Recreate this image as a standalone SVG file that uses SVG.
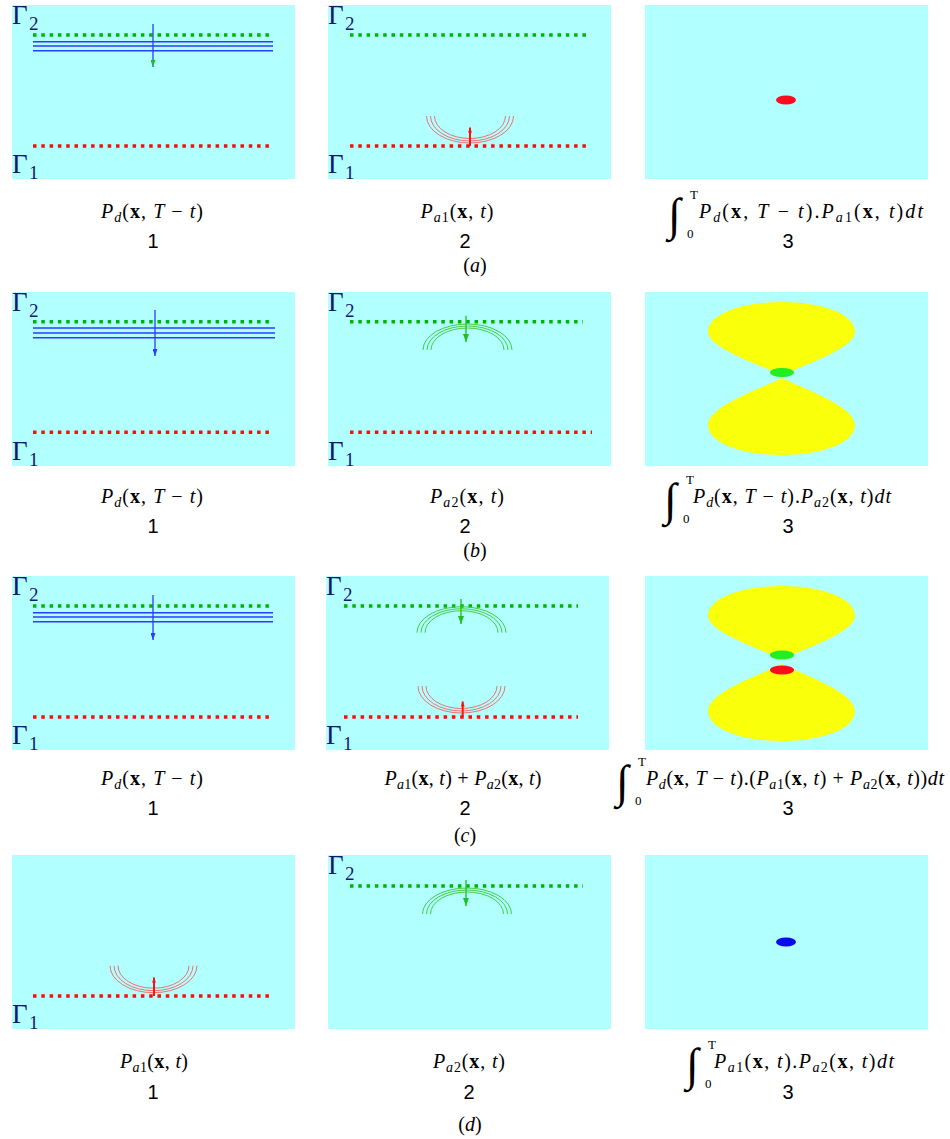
<svg xmlns="http://www.w3.org/2000/svg" width="950" height="1139" viewBox="0 0 950 1139">
<style>
.bg{fill:#b2ffff}
.gd{stroke:#00b400;stroke-width:3.5;stroke-dasharray:3.5 4.8;fill:none}
.rd{stroke:#ff0a0a;stroke-width:3.5;stroke-dasharray:3.5 4.8;fill:none}
.bl{stroke:#2a3cff;stroke-width:1.5;fill:none}
.ar{fill:none;stroke:#f07070;stroke-width:1}
.ag{fill:none;stroke:#40d040;stroke-width:1}
.gam{font-family:"Liberation Serif",serif;fill:#14186e;font-size:27px}
.gs{font-family:"Liberation Serif",serif;fill:#14186e;font-size:19px}
.f{font-family:"Liberation Serif",serif;font-size:20px;fill:#000}
.i{font-style:italic}
.b{font-weight:bold}
.s{font-size:14px;font-style:italic}
.n{font-family:"Liberation Sans",sans-serif;font-size:20px;fill:#000}
.int{font-family:"Liberation Serif",serif;font-size:46px;font-style:italic;fill:#000}
.lim{font-family:"Liberation Serif",serif;font-size:13px;fill:#000}
.yl{fill:#faff0a}
</style>
<defs>
<marker id="hg" viewBox="0 0 10 10" refX="10" refY="5" markerWidth="7" markerHeight="5" markerUnits="userSpaceOnUse" orient="auto" preserveAspectRatio="none"><path d="M0,0 L10,5 L0,10 z" fill="#20c020"/></marker>
<marker id="hg2" viewBox="0 0 10 10" refX="10" refY="5" markerWidth="8" markerHeight="6" markerUnits="userSpaceOnUse" orient="auto" preserveAspectRatio="none"><path d="M0,0 L10,5 L0,10 z" fill="#20c020"/></marker>
<marker id="hb" viewBox="0 0 10 10" refX="10" refY="5" markerWidth="7" markerHeight="5" markerUnits="userSpaceOnUse" orient="auto" preserveAspectRatio="none"><path d="M0,0 L10,5 L0,10 z" fill="#2a3cff"/></marker>
<marker id="hr" viewBox="0 0 10 10" refX="10" refY="5" markerWidth="5" markerHeight="4" markerUnits="userSpaceOnUse" orient="auto" preserveAspectRatio="none"><path d="M0,0 L10,5 L0,10 z" fill="#ff1010"/></marker>
<path id="upLobe" d="M137,83 C117,74 63,56 63,40 C63,22 97,10 137,10 C177,10 210,22 210,40 C210,56 157,74 137,83 Z"/>
<path id="dnLobe" d="M137,86 C117,96 63,114 63,133 C63,151 97,163 137,163 C177,163 210,151 210,133 C210,114 157,96 137,86 Z"/>
<g id="g2lab"><text class="gam" x="0" y="19">Γ</text><text class="gs" x="17" y="25">2</text></g>
<g id="g1lab"><text class="gam" x="0" y="168">Γ</text><text class="gs" x="17" y="174">1</text></g>
<g id="bowl"><path class="ar" d="M-43.5,0 A43.5,27 0 0 0 43.5,0"/><path class="ar" d="M-39.5,0 A39.5,25 0 0 0 39.5,0"/><path class="ar" d="M-35.5,0 A35.5,22.5 0 0 0 35.5,0"/></g>
<g id="dome"><path class="ag" d="M-44.5,0 A44.5,26 0 0 1 44.5,0"/><path class="ag" d="M-40.5,0 A40.5,24 0 0 1 40.5,0"/><path class="ag" d="M-36.5,0 A36.5,22 0 0 1 36.5,0"/></g>
</defs>

<!-- Row a -->
<g id="a1" transform="translate(12,5)">
<rect class="bg" width="283" height="174"/>
<line class="gd" x1="21" y1="30" x2="259" y2="30"/>
<line class="bl" x1="21" y1="36.7" x2="261" y2="36.7"/>
<line class="bl" x1="21" y1="41" x2="261" y2="41"/>
<line class="bl" x1="21" y1="45.7" x2="261" y2="45.7"/>
<line class="rd" x1="21" y1="141" x2="259" y2="141"/>
<use href="#g2lab"/><use href="#g1lab"/>
</g>
<g id="a2" transform="translate(328,5)">
<rect class="bg" width="283" height="174"/>
<line class="gd" x1="22" y1="30" x2="260" y2="30"/>
<line class="rd" x1="22" y1="141" x2="260" y2="141"/>
<use href="#bowl" x="142" y="111"/>
<use href="#g2lab"/><use href="#g1lab"/>
</g>
<g id="a3" transform="translate(645,5)">
<rect class="bg" width="283" height="174"/>
<ellipse cx="141" cy="95" rx="10" ry="4.5" fill="#ff0a1e"/>
</g>

<!-- Row b -->
<g id="b1" transform="translate(12,292)">
<rect class="bg" width="283" height="174"/>
<line class="gd" x1="21" y1="29.7" x2="259" y2="29.7"/>
<line class="bl" x1="21" y1="36" x2="263" y2="36"/>
<line class="bl" x1="21" y1="41" x2="263" y2="41"/>
<line class="bl" x1="21" y1="45.7" x2="263" y2="45.7"/>
<line class="rd" x1="21" y1="140.3" x2="259" y2="140.3"/>
<use href="#g2lab"/><use href="#g1lab"/>
</g>
<g id="b2" transform="translate(328,292)">
<rect class="bg" width="283" height="174"/>
<line class="gd" x1="22" y1="29.7" x2="255" y2="29.7"/>
<line class="rd" x1="22" y1="140.3" x2="264" y2="140.3"/>
<use href="#dome" x="139.5" y="58"/>
<use href="#g2lab"/><use href="#g1lab"/>
</g>
<g id="b3" transform="translate(645,292)">
<rect class="bg" width="283" height="174"/>
<use href="#upLobe" class="yl"/>
<use href="#dnLobe" class="yl"/>
<ellipse cx="137" cy="80.5" rx="12" ry="4.5" fill="#22ee22"/>
</g>

<!-- Row c -->
<g id="c1" transform="translate(12,576)">
<rect class="bg" width="283" height="174"/>
<line class="gd" x1="21" y1="30" x2="259" y2="30"/>
<line class="bl" x1="21" y1="36.7" x2="261" y2="36.7"/>
<line class="bl" x1="21" y1="41" x2="261" y2="41"/>
<line class="bl" x1="21" y1="45.7" x2="261" y2="45.7"/>
<line class="rd" x1="21" y1="141" x2="259" y2="141"/>
<use href="#g2lab"/><use href="#g1lab"/>
</g>
<g id="c2" transform="translate(326,576)">
<rect class="bg" width="283" height="174"/>
<line class="gd" x1="18" y1="30" x2="252" y2="30"/>
<line class="rd" x1="18" y1="141" x2="252" y2="141"/>
<use href="#dome" x="135.5" y="56.7"/>
<use href="#bowl" x="135.5" y="110"/>
<use href="#g2lab"/><use href="#g1lab"/>
</g>
<g id="c3" transform="translate(645,576)">
<rect class="bg" width="283" height="174"/>
<use href="#upLobe" class="yl"/>
<use href="#dnLobe" class="yl" transform="translate(0,2)"/>
<ellipse cx="137" cy="79" rx="12" ry="4.5" fill="#22ee22"/>
<ellipse cx="137" cy="94" rx="12" ry="4.5" fill="#ff0a1e"/>
</g>

<!-- Row d -->
<g id="d1" transform="translate(12,855)">
<rect class="bg" width="283" height="174"/>
<line class="rd" x1="21" y1="141" x2="259" y2="141"/>
<use href="#bowl" x="141.5" y="110.7"/>
<use href="#g1lab"/>
</g>
<g id="d2" transform="translate(328,855)">
<rect class="bg" width="283" height="174"/>
<line class="gd" x1="22" y1="31" x2="255" y2="31"/>
<use href="#dome" x="139" y="59"/>
<use href="#g2lab"/>
</g>
<g id="d3" transform="translate(645,855)">
<rect class="bg" width="283" height="174"/>
<ellipse cx="141" cy="87" rx="10" ry="4.5" fill="#0808f0"/>
</g>

<!-- arrows -->
<g id="connectors">
<line x1="153" y1="24" x2="153" y2="67" stroke="#2a3cff" stroke-width="1.3" marker-end="url(#hg)"/>
<line x1="470" y1="146" x2="470" y2="127.5" stroke="#ff1010" stroke-width="2" marker-end="url(#hr)"/>
<line x1="155" y1="310" x2="155" y2="356" stroke="#2a3cff" stroke-width="1.3" marker-end="url(#hb)"/>
<line x1="466" y1="315.7" x2="466" y2="342" stroke="#20c020" stroke-width="1.3" marker-end="url(#hg2)"/>
<line x1="153" y1="595" x2="153" y2="640" stroke="#2a3cff" stroke-width="1.3" marker-end="url(#hb)"/>
<line x1="461" y1="599" x2="461" y2="624" stroke="#20c020" stroke-width="1.3" marker-end="url(#hg2)"/>
<line x1="462.7" y1="717" x2="462.7" y2="701.5" stroke="#ff1010" stroke-width="2" marker-end="url(#hr)"/>
<line x1="154" y1="996" x2="154" y2="977.5" stroke="#ff1010" stroke-width="2" marker-end="url(#hr)"/>
<line x1="466" y1="880" x2="466" y2="906" stroke="#20c020" stroke-width="1.3" marker-end="url(#hg2)"/>
</g>

<!-- labels row a -->
<g id="labels-a">
<text class="f" x="152" y="218" text-anchor="middle" textLength="102" lengthAdjust="spacing"><tspan class="i">P</tspan><tspan class="s" dy="4">d</tspan><tspan dy="-4">(</tspan><tspan class="b">x</tspan>, <tspan class="i">T</tspan> − <tspan class="i">t</tspan>)</text>
<text class="n" x="153" y="248" text-anchor="middle">1</text>
<text class="f" x="457" y="218" text-anchor="middle" textLength="73" lengthAdjust="spacing"><tspan class="i">P</tspan><tspan class="s" dy="4">a</tspan><tspan font-size="14" dy="0">1</tspan><tspan dy="-4">(</tspan><tspan class="b">x</tspan>, <tspan class="i">t</tspan>)</text>
<text class="n" x="465" y="248" text-anchor="middle">2</text>
<text class="int" x="668" y="230">∫</text><text class="lim" x="690" y="199">T</text><text class="lim" x="687" y="238">0</text>
<text class="f" x="699" y="218" textLength="224" lengthAdjust="spacing"><tspan class="i">P</tspan><tspan class="s" dy="4">d</tspan><tspan dy="-4">(</tspan><tspan class="b">x</tspan>, <tspan class="i">T</tspan> − <tspan class="i">t</tspan>).<tspan class="i">P</tspan><tspan class="s" dy="4">a</tspan><tspan font-size="14">1</tspan><tspan dy="-4">(</tspan><tspan class="b">x</tspan>, <tspan class="i">t</tspan>)<tspan class="i">dt</tspan></text>
<text class="n" x="788" y="248" text-anchor="middle">3</text>
<text class="f" x="475" y="272" text-anchor="middle">(<tspan class="i">a</tspan>)</text>
</g>

<g id="labels-b">
<text class="f" x="152" y="503" text-anchor="middle" textLength="102" lengthAdjust="spacing"><tspan class="i">P</tspan><tspan class="s" dy="4">d</tspan><tspan dy="-4">(</tspan><tspan class="b">x</tspan>, <tspan class="i">T</tspan> − <tspan class="i">t</tspan>)</text>
<text class="n" x="153" y="533" text-anchor="middle">1</text>
<text class="f" x="467" y="503" text-anchor="middle" textLength="74" lengthAdjust="spacing"><tspan class="i">P</tspan><tspan class="s" dy="4">a</tspan><tspan font-size="14">2</tspan><tspan dy="-4">(</tspan><tspan class="b">x</tspan>, <tspan class="i">t</tspan>)</text>
<text class="n" x="465" y="533" text-anchor="middle">2</text>
<text class="int" x="664" y="515">∫</text><text class="lim" x="686" y="484">T</text><text class="lim" x="683" y="523">0</text>
<text class="f" x="693" y="503" textLength="198" lengthAdjust="spacing"><tspan class="i">P</tspan><tspan class="s" dy="4">d</tspan><tspan dy="-4">(</tspan><tspan class="b">x</tspan>, <tspan class="i">T</tspan> − <tspan class="i">t</tspan>).<tspan class="i">P</tspan><tspan class="s" dy="4">a</tspan><tspan font-size="14">2</tspan><tspan dy="-4">(</tspan><tspan class="b">x</tspan>, <tspan class="i">t</tspan>)<tspan class="i">dt</tspan></text>
<text class="n" x="788" y="533" text-anchor="middle">3</text>
<text class="f" x="475" y="557" text-anchor="middle">(<tspan class="i">b</tspan>)</text>
</g>

<g id="labels-c">
<text class="f" x="152" y="785" text-anchor="middle" textLength="102" lengthAdjust="spacing"><tspan class="i">P</tspan><tspan class="s" dy="4">d</tspan><tspan dy="-4">(</tspan><tspan class="b">x</tspan>, <tspan class="i">T</tspan> − <tspan class="i">t</tspan>)</text>
<text class="n" x="153" y="815" text-anchor="middle">1</text>
<text class="f" x="463" y="785" text-anchor="middle" textLength="157" lengthAdjust="spacing"><tspan class="i">P</tspan><tspan class="s" dy="4">a</tspan><tspan font-size="14">1</tspan><tspan dy="-4">(</tspan><tspan class="b">x</tspan>, <tspan class="i">t</tspan>) + <tspan class="i">P</tspan><tspan class="s" dy="4">a</tspan><tspan font-size="14">2</tspan><tspan dy="-4">(</tspan><tspan class="b">x</tspan>, <tspan class="i">t</tspan>)</text>
<text class="n" x="465" y="815" text-anchor="middle">2</text>
<text class="int" x="616" y="797">∫</text><text class="lim" x="638" y="766">T</text><text class="lim" x="635" y="805">0</text>
<text class="f" x="646" y="785" textLength="298" lengthAdjust="spacing"><tspan class="i">P</tspan><tspan class="s" dy="4">d</tspan><tspan dy="-4">(</tspan><tspan class="b">x</tspan>, <tspan class="i">T</tspan> − <tspan class="i">t</tspan>).(<tspan class="i">P</tspan><tspan class="s" dy="4">a</tspan><tspan font-size="14">1</tspan><tspan dy="-4">(</tspan><tspan class="b">x</tspan>, <tspan class="i">t</tspan>) + <tspan class="i">P</tspan><tspan class="s" dy="4">a</tspan><tspan font-size="14">2</tspan><tspan dy="-4">(</tspan><tspan class="b">x</tspan>, <tspan class="i">t</tspan>))<tspan class="i">dt</tspan></text>
<text class="n" x="788" y="815" text-anchor="middle">3</text>
<text class="f" x="465" y="842" text-anchor="middle">(<tspan class="i">c</tspan>)</text>
</g>

<g id="labels-d">
<text class="f" x="154" y="1068" text-anchor="middle" textLength="68" lengthAdjust="spacing"><tspan class="i">P</tspan><tspan class="s" dy="4">a</tspan><tspan font-size="14">1</tspan><tspan dy="-4">(</tspan><tspan class="b">x</tspan>, <tspan class="i">t</tspan>)</text>
<text class="n" x="153" y="1099" text-anchor="middle">1</text>
<text class="f" x="469" y="1068" text-anchor="middle" textLength="72" lengthAdjust="spacing"><tspan class="i">P</tspan><tspan class="s" dy="4">a</tspan><tspan font-size="14">2</tspan><tspan dy="-4">(</tspan><tspan class="b">x</tspan>, <tspan class="i">t</tspan>)</text>
<text class="n" x="469" y="1099" text-anchor="middle">2</text>
<text class="int" x="686" y="1080">∫</text><text class="lim" x="708" y="1049">T</text><text class="lim" x="705" y="1088">0</text>
<text class="f" x="714" y="1068" textLength="180" lengthAdjust="spacing"><tspan class="i">P</tspan><tspan class="s" dy="4">a</tspan><tspan font-size="14">1</tspan><tspan dy="-4">(</tspan><tspan class="b">x</tspan>, <tspan class="i">t</tspan>).<tspan class="i">P</tspan><tspan class="s" dy="4">a</tspan><tspan font-size="14">2</tspan><tspan dy="-4">(</tspan><tspan class="b">x</tspan>, <tspan class="i">t</tspan>)<tspan class="i">dt</tspan></text>
<text class="n" x="788" y="1099" text-anchor="middle">3</text>
<text class="f" x="470" y="1131" text-anchor="middle">(<tspan class="i">d</tspan>)</text>
</g>
</svg>
